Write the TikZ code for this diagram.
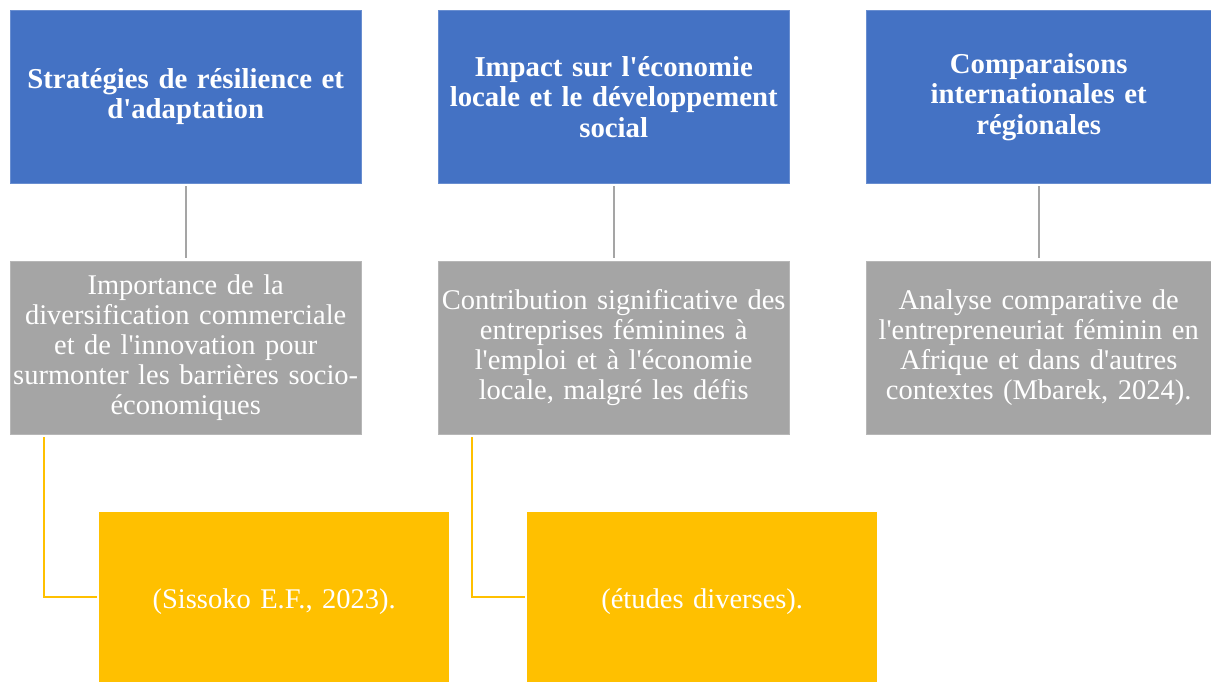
\documentclass[tikz,border=0pt]{standalone}
\usepackage{fontspec}
\setmainfont{Liberation Serif}
\usepackage{tikz}
\usetikzlibrary{positioning}

\definecolor{hdblue}{HTML}{4472C4}
\definecolor{bodygray}{HTML}{A5A5A5}
\definecolor{refyellow}{HTML}{FFC000}
\newcommand{\ap}{\textquotesingle}

\begin{document}
\begin{tikzpicture}[x=1pt, y=-1pt,
	box/.style={anchor=north west, minimum height=173pt, inner sep=0pt, text=white, align=center, font=\fontsize{28.5}{30}\selectfont},
	head/.style={box, fill=hdblue, draw=hdblue!80!white, minimum width=351pt, text width=351pt, font=\fontsize{28.8}{30.5}\selectfont\bfseries},
	body/.style={box, fill=bodygray, draw=bodygray!80!white, minimum width=351pt, text width=351pt},
	ref/.style={box, fill=refyellow, minimum width=350pt, minimum height=170pt, text width=345pt, text height=28pt, text depth=6pt},
	link/.style={draw=bodygray, line width=2pt},
	cite/.style={draw=refyellow, line width=2pt}]

	\useasboundingbox (0,0) rectangle (1211,682);

	\node [head] (strat) at (10,10) {Stratégies de résilience et\\d\ap adaptation};
	\node [head] (impact) at (438,10) {Impact sur l\ap économie\\locale et le développement\\social};
	\node [head, minimum width=345pt, text width=345pt] (comp) at (866,10) {Comparaisons\\internationales et\\régionales};

	\node [body] (imp) at (10,261) {Importance de la\\diversification commerciale\\et de l\ap innovation pour\\surmonter les barrières socio-\\économiques};
	\node [body] (contrib) at (438,261) {Contribution significative des\\entreprises féminines à\\l\ap emploi et à l\ap économie\\locale, malgré les défis};
	\node [body, minimum width=345pt, text width=345pt] (analyse) at (866,261) {Analyse comparative de\\l\ap entrepreneuriat féminin en\\Afrique et dans d\ap autres\\contextes (Mbarek, 2024).};

	\node [ref] (sissoko) at (99,512) {(Sissoko E.F., 2023).};
	\node [ref] (etudes) at (527,512) {(études diverses).};

	\draw [link, shorten <=3pt, shorten >=3pt] (strat) -- (imp);
	\draw [link, shorten <=3pt, shorten >=3pt] (impact) -- (contrib);
	\draw [link, shorten <=3pt, shorten >=3pt] (comp) -- (analyse);

	\draw [cite, shorten <=3pt, shorten >=2pt] ([xshift=34pt]imp.south west) |- (sissoko.west);
	\draw [cite, shorten <=3pt, shorten >=2pt] ([xshift=34pt]contrib.south west) |- (etudes.west);

\end{tikzpicture}
\end{document}
